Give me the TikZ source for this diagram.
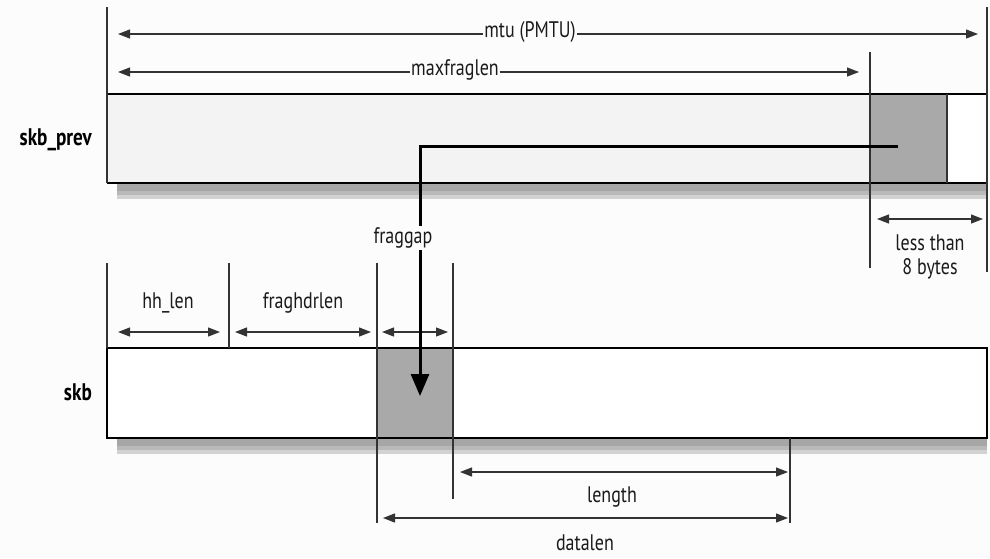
\documentclass[tikz,border=0pt]{standalone}
\usepackage{fontspec}
\setmainfont{PT Sans}[FakeStretch=0.8]
\usetikzlibrary{arrows.meta}
\definecolor{bgc}{HTML}{FCFCFC}
\definecolor{lightbox}{HTML}{F3F3F3}
\definecolor{darkbox}{HTML}{A9A9A9}
\definecolor{linec}{HTML}{333333}
\definecolor{textc}{HTML}{1A1A1A}
\tikzset{
  dimline/.style={draw=linec, line width=1.2pt},
  dimarrow/.style={dimline, {Triangle[length=12pt,width=9pt]}-{Triangle[length=12pt,width=9pt]}},
  rarrow/.style={dimline, -{Triangle[length=12pt,width=9pt]}},
  larrow/.style={dimline, {Triangle[length=12pt,width=9pt]}-},
  lbl/.style={font=\fontsize{22.5}{24}\selectfont, text=textc, inner sep=1pt},
  blbl/.style={font=\fontsize{24}{26}\selectfont\bfseries, text=black, inner sep=1pt},
  boxline/.style={draw=black, line width=1.5pt},
}
\begin{document}
\begin{tikzpicture}[x=1pt,y=-1pt]
\useasboundingbox[fill=bgc] (0,0) rectangle (990,558);

% ---------- skb_prev ----------
\fill[gray!35] (117,183) rectangle (987,199);
\fill[gray!55] (117,183) rectangle (987,195);
\fill[gray!70] (117,183) rectangle (987,191);
\fill[lightbox] (107,94) rectangle (870,183);
\fill[darkbox] (870,94) rectangle (947,183);
\fill[white] (947,94) rectangle (987,183);
\draw[boxline] (107,94) -- (987,94);
\draw[boxline] (107,183) -- (987,183);
\draw[dimline] (947,94) -- (947,183);
\draw[dimline] (107,7) -- (107,183);
\draw[dimline] (987,7) -- (987,272);
\draw[dimline] (870,52) -- (870,268);
\node[blbl, anchor=east] (skbprev) at (93,140) {skb\_prev};

% mtu
\coordinate (mtuL) at (118,34);
\coordinate (mtuR) at (978,34);
\node[lbl, anchor=center] (mtu) at (530,32) {mtu (PMTU)};
\draw[larrow] (mtuL) -- (mtu.west |- mtuL);
\draw[rarrow] (mtu.east |- mtuR) -- (mtuR);

% maxfraglen
\coordinate (mfL) at (118,72);
\coordinate (mfR) at (859,72);
\node[lbl] (maxfrag) at (455,70) {maxfraglen};
\draw[larrow] (mfL) -- (maxfrag.west |- mfL);
\draw[rarrow] (maxfrag.east |- mfR) -- (mfR);

% less than 8 bytes
\coordinate (ltL) at (877,219);
\coordinate (ltR) at (983,219);
\draw[dimarrow] (ltL) -- (ltR);
\node[lbl, align=center] (lessthan) at (930,257) {less than\\8 bytes};

% ---------- skb ----------
\fill[gray!35] (117,438) rectangle (987,454);
\fill[gray!55] (117,438) rectangle (987,450);
\fill[gray!70] (117,438) rectangle (987,446);
\fill[white] (107,348) rectangle (987,438);
\fill[darkbox] (377,348) rectangle (453,438);
\draw[boxline] (107,348) rectangle (987,438);
\node[blbl, anchor=east] (skb) at (93,392) {skb};

\draw[dimline] (107,263) -- (107,348);
\draw[dimline] (229,263) -- (229,348);
\draw[dimline] (377,263) -- (377,523);
\draw[dimline] (453,263) -- (453,499);
\draw[dimline] (790,438) -- (790,523);

\draw[dimarrow] (118,332) -- (220,332);
\node[lbl] (hhlen) at (168,303) {hh\_len};
\draw[dimarrow] (235,332) -- (371,332);
\node[lbl] (fraghdr) at (303,303) {fraghdrlen};
\draw[dimarrow] (382,332) -- (448,332);

\draw[dimarrow] (460,472) -- (788,472);
\node[lbl] (length) at (612,497) {length};
\draw[dimarrow] (383,518) -- (788,518);
\node[lbl] (datalen) at (585,543) {datalen};

% fraggap arrow
\coordinate (fgStart) at (898,146);
\coordinate (fgCorner) at (420,146);
\coordinate (fgEnd) at (420,396);
\node[lbl] (fraggap) at (403,238) {fraggap};
\draw[line width=3pt, line cap=butt] (fgStart) -- (fgCorner) -- (fgCorner |- fraggap.north);
\draw[line width=3pt, -{Triangle[length=22pt,width=18pt]}] (fgCorner |- fraggap.south) -- (fgEnd);
\end{tikzpicture}
\end{document}
